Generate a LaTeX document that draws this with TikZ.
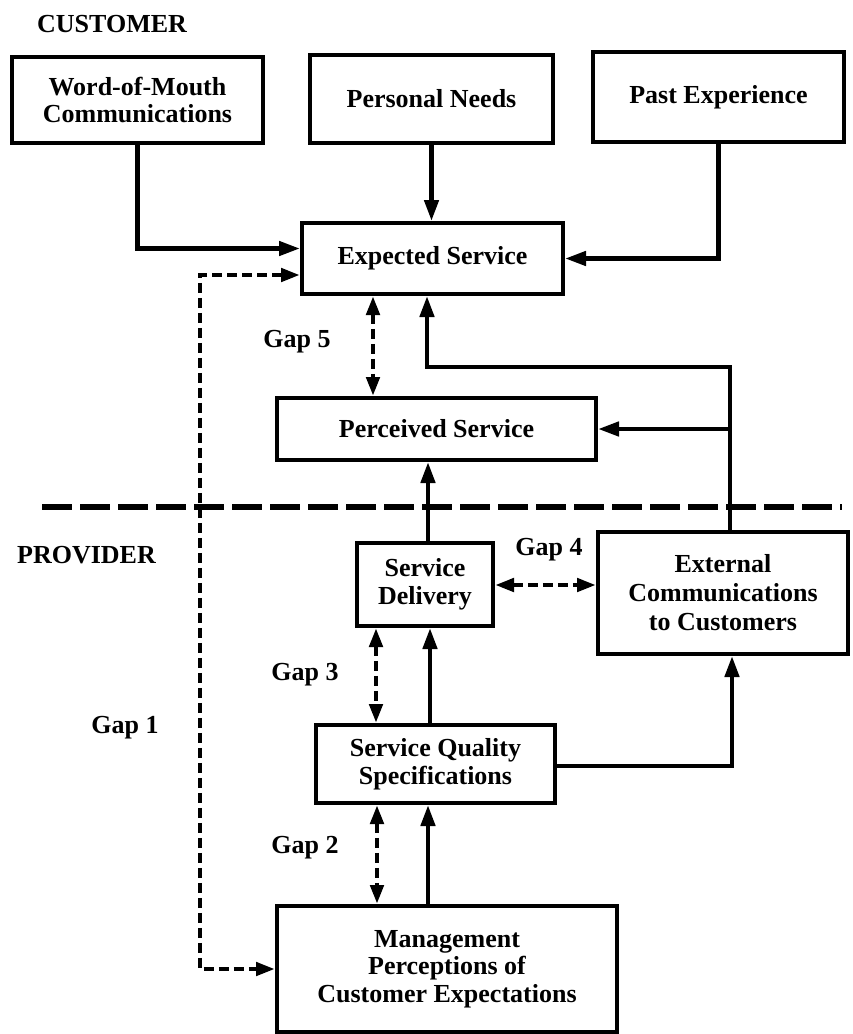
\documentclass[tikz,border=0pt]{standalone}
\usepackage{fontspec}
\setmainfont{Liberation Serif}
\usetikzlibrary{arrows.meta}
\begin{document}
\begin{tikzpicture}[x=1pt,y=-1pt,
  txt/.style={font=\bfseries\fontsize{26}{27.5}\selectfont},
  box/.style={txt, draw, line width=4pt, inner sep=0pt, align=center},
  lbl/.style={txt, inner sep=0pt},
  arr/.style={line width=4.5pt, -{Triangle[length=21pt,width=14pt]}},
  gaparr/.style={line width=4.5pt, dash pattern=on 10pt off 5pt,
     {Triangle[length=19pt,width=13pt]}-{Triangle[length=19pt,width=13pt]}},
  sepline/.style={line width=5.5pt, dash pattern=on 30pt off 8pt}]
\useasboundingbox (0,0) rectangle (852,1034);

% boxes
\node[box, minimum width=251pt, minimum height=86pt] (wom) at (137.5,100) {Word-of-Mouth\\Communications};
\node[box, minimum width=243pt, minimum height=88pt] (pn) at (431.5,99) {Personal Needs};
\node[box, minimum width=251pt, minimum height=90pt] (pe) at (718.5,97) {Past Experience};
\node[box, minimum width=261pt, minimum height=71pt] (es) at (432.5,258.5) {Expected Service};
\node[box, minimum width=319pt, minimum height=62pt] (ps) at (436.5,429) {Perceived Service};
\node[box, minimum width=136pt, minimum height=83pt] (sd) at (425,584.5) {Service\\Delivery};
\node[box, minimum width=250pt, minimum height=122pt, font=\bfseries\fontsize{26}{29}\selectfont] (ec) at (723,593) {External\\Communications\\to Customers};
\node[box, minimum width=239pt, minimum height=78pt] (sqs) at (435.5,764) {Service Quality\\Specifications};
\node[box, minimum width=340pt, minimum height=126pt] (mp) at (447,969) {Management\\Perceptions of\\Customer Expectations};

% labels
\node[lbl, anchor=west] (cust) at (37,24) {CUSTOMER};
\node[lbl, anchor=west] (prov) at (17,555) {PROVIDER};
\node[lbl] (gap5) at (297,342) {Gap 5};
\node[lbl] (gap4) at (549,550) {Gap 4};
\node[lbl] (gap3) at (305,675) {Gap 3};
\node[lbl] (gap2) at (305,848) {Gap 2};
\node[lbl] (gap1) at (125,728) {Gap 1};

% helper coordinates
\coordinate (g1) at (200,0);
\coordinate (g5) at (373,0);
\coordinate (g3) at (376,0);
\coordinate (g2) at (377,0);
\coordinate (g4) at (0,585);
\coordinate (cx) at (730,0);
\coordinate (r1) at (427,367);
\coordinate (c1) at (428,0);
\coordinate (c2) at (430,0);
\coordinate (k) at (732,766);
\coordinate (sepL) at (42,507);
\coordinate (sepR) at (842,507);

% separator
\draw[sepline] (sepL) -- (sepR);

% customer side inputs
\draw[arr] (wom.south) |- ([yshift=10pt]es.west);
\draw[arr] (pn.south) -- (pn.south |- es.north);
\draw[arr] (pe.south) |- (es.east);

% external communications
\draw[arr] (cx |- ec.north) |- (r1) -- (r1 |- es.south);
\draw[arr] (cx |- ps.east) -- (ps.east);

% vertical flows
\draw[arr] (c1 |- sd.north) -- (c1 |- ps.south);
\draw[arr] (c2 |- sqs.north) -- (c2 |- sd.south);
\draw[arr] (c1 |- mp.north) -- (c1 |- sqs.south);
\draw[arr] (sqs.east |- k) -| (k |- ec.south);

% gaps
\draw[gaparr] ([yshift=-16.5pt]es.west) -| (g1 |- mp.west) -- (mp.west);
\draw[gaparr] (g5 |- es.south) -- (g5 |- ps.north);
\draw[gaparr] (sd.east |- g4) -- (ec.west |- g4);
\draw[gaparr] (g3 |- sd.south) -- (g3 |- sqs.north);
\draw[gaparr] (g2 |- sqs.south) -- (g2 |- mp.north);
\end{tikzpicture}
\end{document}
